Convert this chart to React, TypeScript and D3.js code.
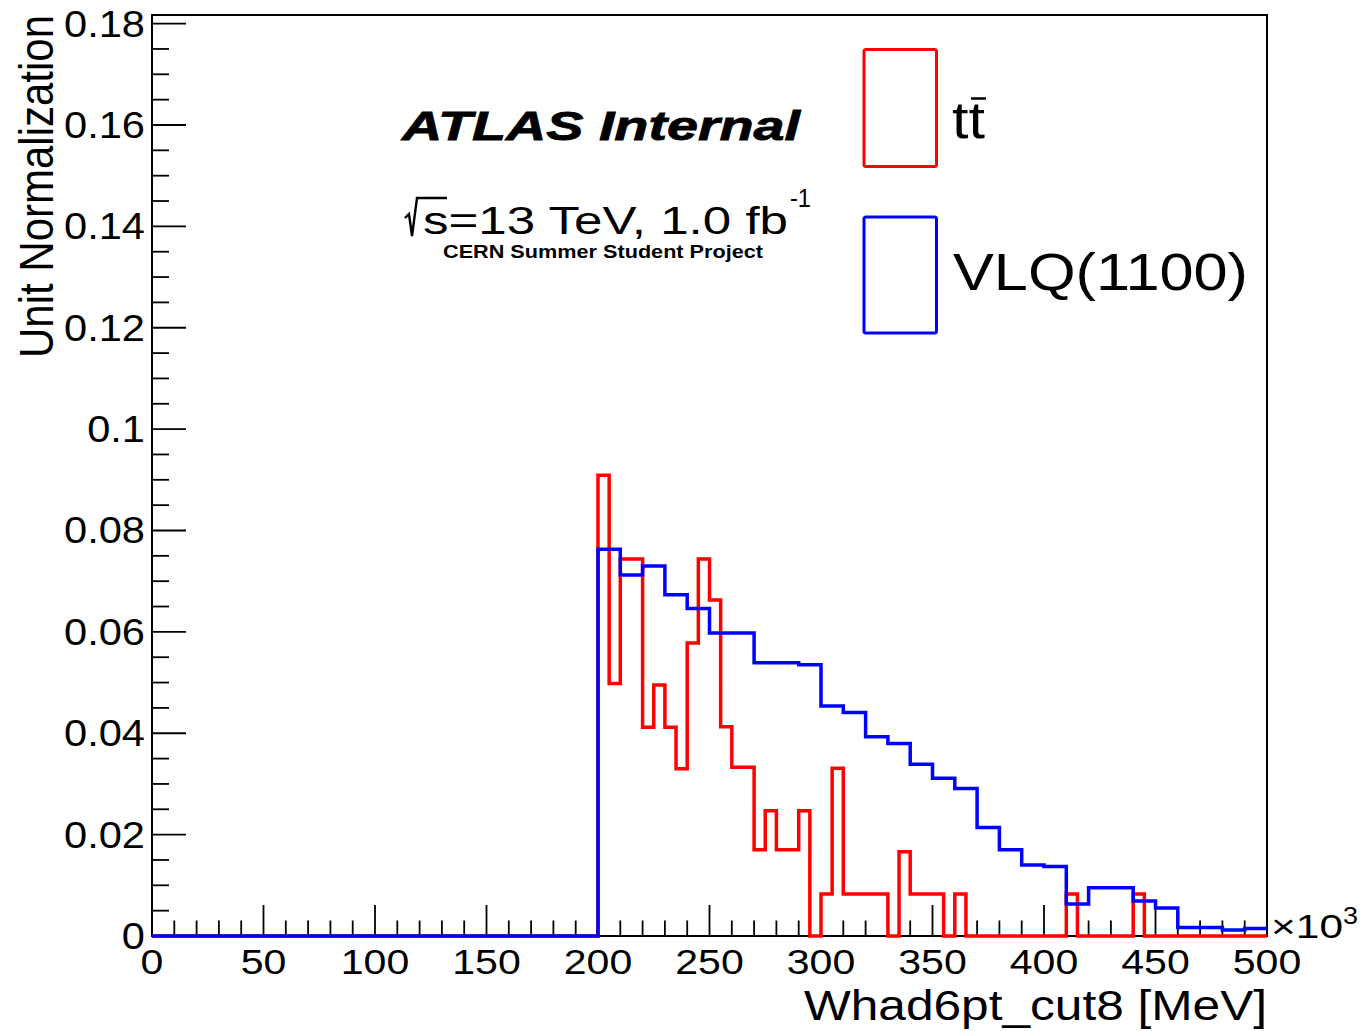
import React from "react";
import * as d3 from "d3";

// ---------------- DATA ----------------
// x axis: Whad6pt_cut8 in units of 10^3 MeV, range 0..500
const X_MIN = 0;
const X_MAX = 500;
const Y_MAX = 0.1817;

// ttbar: 5-wide bins, all zero below 200; values from 200 to 500
const ttbarStart = 200;
const ttbarBinWidth = 5;
const ttbarValues = [
  0.0909, 0.0498, 0.0744, 0.0744, 0.0412, 0.0495, 0.0412, 0.033, 0.0578, 0.0744,
  0.0663, 0.0413, 0.0333, 0.0333, 0.017, 0.0247, 0.017, 0.017, 0.0247, 0.0,
  0.0083, 0.0331, 0.0083, 0.0083, 0.0083, 0.0083, 0.0, 0.0166, 0.0083, 0.0083,
  0.0083, 0.0, 0.0083, 0.0, 0.0, 0.0, 0.0, 0.0, 0.0, 0.0,
  0.0, 0.0, 0.0083, 0.0, 0.0, 0.0, 0.0, 0.0, 0.0083, 0.0,
  0.0, 0.0, 0.0, 0.0, 0.0, 0.0, 0.0, 0.0, 0.0, 0.0,
];

// VLQ(1100): 10-wide bins, all zero below 200; values from 200 to 500
const vlqStart = 200;
const vlqBinWidth = 10;
const vlqValues = [
  0.0763, 0.0712, 0.073, 0.0673, 0.0646, 0.0598, 0.0598, 0.0539, 0.0539, 0.0535,
  0.0454, 0.0441, 0.0393, 0.038, 0.0339, 0.0311, 0.0291, 0.0214, 0.017, 0.014,
  0.0137, 0.0063, 0.0095, 0.0095, 0.0069, 0.0055, 0.0017, 0.0017, 0.0012, 0.0015,
];

const yTickValues = [0, 0.02, 0.04, 0.06, 0.08, 0.1, 0.12, 0.14, 0.16, 0.18];
const yTickLabels = ["0", "0.02", "0.04", "0.06", "0.08", "0.1", "0.12", "0.14", "0.16", "0.18"];
const xTickValues = [0, 50, 100, 150, 200, 250, 300, 350, 400, 450, 500];
const xTickLabels = ["0", "50", "100", "150", "200", "250", "300", "350", "400", "450", "500"];

const legendLabels = ["tt", "VLQ(1100)"];
const xTitle = "Whad6pt_cut8 [MeV]";
const yTitle = "Unit Normalization";

// ---------------- LAYOUT ----------------
const W = 1363;
const H = 1031;
const L = 152;
const R = 1267;
const T = 15;
const B = 936;
const FONT = "'Liberation Sans', Arial, Helvetica, sans-serif";
const SX = 1.14;

const x = d3.scaleLinear().domain([X_MIN, X_MAX]).range([L, R]);
const y = d3.scaleLinear().domain([0, Y_MAX]).range([B, T]);

function stepPoints(start: number, width: number, values: number[]): [number, number][] {
  const pts: [number, number][] = [];
  const nLead = Math.round((start - X_MIN) / width);
  const all = new Array(nLead).fill(0).concat(values);
  all.forEach((v, i) => {
    const x0 = X_MIN + i * width;
    pts.push([x0, v]);
    pts.push([x0 + width, v]);
  });
  return pts;
}

const line = d3
  .line<[number, number]>()
  .x((d) => x(d[0]))
  .y((d) => y(d[1]));

export default function App() {
  const yMinor = d3.range(0, Y_MAX + 1e-9, 0.005);
  const xMinor = d3.range(0, X_MAX + 1e-9, 10);
  const ttPath = line(stepPoints(ttbarStart, ttbarBinWidth, ttbarValues)) || "";
  const vlqPath = line(stepPoints(vlqStart, vlqBinWidth, vlqValues)) || "";

  return (
    <div style={{ position: "absolute", left: 0, top: 0 }}>
      <svg width={W} height={H} style={{ display: "block", background: "#fff" }} fontFamily={FONT}>
        <rect x={0} y={0} width={W} height={H} fill="#fff" />
        {/* frame */}
        <rect x={L} y={T} width={R - L} height={B - T} fill="none" stroke="#000" strokeWidth={2} />
        {/* y ticks */}
        {yMinor.map((v, i) => {
          const major = Math.abs(v / 0.02 - Math.round(v / 0.02)) < 1e-6;
          return (
            <line key={"ym" + i} x1={L} x2={L + (major ? 34 : 17)} y1={y(v)} y2={y(v)} stroke="#000" strokeWidth={1.8} />
          );
        })}
        {/* x ticks */}
        {xMinor.map((v, i) => {
          const major = v % 50 === 0;
          return (
            <line key={"xm" + i} x1={x(v)} x2={x(v)} y1={B} y2={B - (major ? 31 : 15.5)} stroke="#000" strokeWidth={1.8} />
          );
        })}
        {/* y tick labels */}
        {yTickValues.map((v, i) => (
          <text
            key={"yl" + i}
            transform={`translate(145,${y(v) + 13}) scale(${SX},1)`}
            textAnchor="end"
            fontSize={36.5}
            fill="#000"
          >
            {yTickLabels[i]}
          </text>
        ))}
        {/* x tick labels */}
        {xTickValues.map((v, i) => (
          <text
            key={"xl" + i}
            transform={`translate(${x(v)},974) scale(${SX},1)`}
            textAnchor="middle"
            fontSize={36}
            fill="#000"
          >
            {xTickLabels[i]}
          </text>
        ))}
        {/* x10^3 */}
        <text x={1271} y={938} fontSize={34} textLength={72} lengthAdjust="spacingAndGlyphs">
          ×10
        </text>
        <text x={1343} y={924} fontSize={24} textLength={15} lengthAdjust="spacingAndGlyphs">
          3
        </text>
        {/* axis titles */}
        <text x={R} y={1020} textAnchor="end" fontSize={42} textLength={463} lengthAdjust="spacingAndGlyphs">
          {xTitle}
        </text>
        <text transform={`translate(53,15) scale(${SX},1) rotate(-90)`} textAnchor="end" fontSize={42}>
          {yTitle}
        </text>

        {/* histograms */}
        <path d={ttPath} fill="none" stroke="#ff0000" strokeWidth={3.5} />
        <path d={vlqPath} fill="none" stroke="#0000ff" strokeWidth={3.5} />

        {/* ATLAS label */}
        <text
          x={402}
          y={140}
          fontSize={41}
          fontWeight="bold"
          fontStyle="italic"
          stroke="#000"
          strokeWidth={0.8}
          textLength={398}
          lengthAdjust="spacingAndGlyphs"
        >
          ATLAS Internal
        </text>
        {/* sqrt(s) */}
        <path d="M405,218 L409,214 L412,236 L417,198 L447,198" fill="none" stroke="#000" strokeWidth={2.4} />
        <text x={423} y={234} fontSize={39} textLength={365} lengthAdjust="spacingAndGlyphs">
          s=13 TeV, 1.0 fb
        </text>
        <text x={790} y={207} fontSize={26} textLength={21} lengthAdjust="spacingAndGlyphs">
          -1
        </text>
        <text x={443} y={258} fontSize={18.5} fontWeight="bold" textLength={320} lengthAdjust="spacingAndGlyphs">
          CERN Summer Student Project
        </text>

        {/* legend */}
        <rect x={864} y={49.5} width={72.5} height={117} rx={2} fill="none" stroke="#ff0000" strokeWidth={3} />
        <rect x={864} y={217} width={72.5} height={116} rx={2} fill="none" stroke="#0000ff" strokeWidth={3} />
        <text x={952} y={138} fontSize={51} textLength={33} lengthAdjust="spacingAndGlyphs">
          {legendLabels[0]}
        </text>
        <line x1={971} x2={986} y1={98.5} y2={98.5} stroke="#000" strokeWidth={2.5} />
        <text x={953} y={290} fontSize={51} textLength={295} lengthAdjust="spacingAndGlyphs">
          {legendLabels[1]}
        </text>
      </svg>
    </div>
  );
}
